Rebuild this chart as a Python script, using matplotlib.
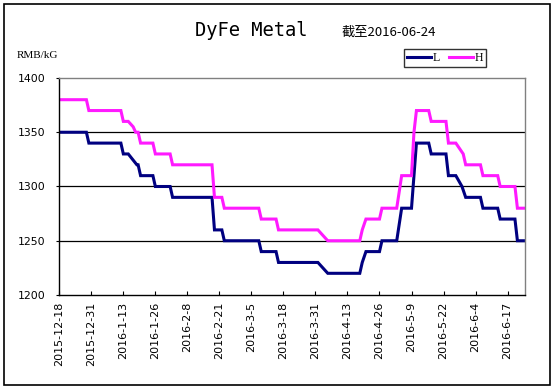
import matplotlib
matplotlib.use("Agg")
import matplotlib.pyplot as plt
import matplotlib.dates as mdates
import numpy as np
from matplotlib.patches import Rectangle

start = np.datetime64("2015-12-18")

# Change points: day offset from 2015-12-18 and price (RMB/kG)
h_days = [0, 11, 12, 25, 26, 28, 30, 31, 32, 33, 38, 39, 45, 46, 62, 63, 66, 67,
          81, 82, 88, 89, 105, 109, 122, 123, 124.5, 130, 131, 137, 139, 143, 144, 145,
          150, 151, 157, 158, 161, 164, 165, 171, 172, 178, 179, 185, 186, 189]
h_vals = [1380, 1380, 1370, 1370, 1360, 1360, 1355, 1350, 1350, 1340, 1340, 1330, 1330, 1320, 1320, 1290, 1290, 1280,
          1280, 1270, 1270, 1260, 1260, 1250, 1250, 1260, 1270, 1270, 1280, 1280, 1310, 1310, 1350, 1370,
          1370, 1360, 1360, 1340, 1340, 1330, 1320, 1320, 1310, 1310, 1300, 1300, 1280, 1280]

l_days = [0, 11, 12, 25, 26, 28, 31.5, 32, 33, 38, 39, 45, 46, 62, 63, 66, 67,
          81, 82, 88, 89, 105, 109, 122, 123, 124.5, 130, 131, 137, 139, 143, 145,
          150, 151, 157, 158, 161, 163.5, 165, 171, 172, 178, 179, 185, 186, 189]
l_vals = [1350, 1350, 1340, 1340, 1330, 1330, 1320, 1320, 1310, 1310, 1300, 1300, 1290, 1290, 1260, 1260, 1250,
          1250, 1240, 1240, 1230, 1230, 1220, 1220, 1230, 1240, 1240, 1250, 1250, 1280, 1280, 1340,
          1340, 1330, 1330, 1310, 1310, 1300, 1290, 1290, 1280, 1280, 1270, 1270, 1250, 1250]

tick_labels = ["2015-12-18", "2015-12-31", "2016-1-13", "2016-1-26", "2016-2-8", "2016-2-21",
               "2016-3-5", "2016-3-18", "2016-3-31", "2016-4-13", "2016-4-26", "2016-5-9",
               "2016-5-22", "2016-6-4", "2016-6-17"]
tick_dates = ["2015-12-18", "2015-12-31", "2016-01-13", "2016-01-26", "2016-02-08", "2016-02-21",
              "2016-03-05", "2016-03-18", "2016-03-31", "2016-04-13", "2016-04-26", "2016-05-09",
              "2016-05-22", "2016-06-04", "2016-06-17"]
y_ticks = [1200, 1250, 1300, 1350, 1400]


def to_num(days):
    base = mdates.date2num(start.astype("datetime64[D]").astype(object))
    return [base + d for d in days]


fig = plt.figure(figsize=(5.55, 3.89), dpi=100)
fig.patch.set_facecolor("white")
W, H = 555, 389
ax = fig.add_axes([59.3 / W, 1 - 295 / H, (524.8 - 59.3) / W, (295 - 78) / H])

ax.plot(to_num(l_days), l_vals, color="#000080", lw=2.2, label="L", solid_joinstyle="miter")
ax.plot(to_num(h_days), h_vals, color="#FF1AFF", lw=2.2, label="H", solid_joinstyle="miter")

x0 = to_num([0])[0]
ax.set_xlim(x0, x0 + 189)
ax.set_ylim(1200, 1400)
for v in [1250, 1300, 1350]:
    ax.axhline(v, color="black", lw=0.9, zorder=0)

ax.set_yticks(y_ticks)
ax.set_yticklabels([str(v) for v in y_ticks], fontsize=7.8, family="DejaVu Sans")
ax.set_xticks([mdates.date2num(np.datetime64(d).astype(object)) for d in tick_dates])
ax.set_xticklabels(tick_labels, rotation=90, fontsize=8, family="DejaVu Sans")
ax.tick_params(axis="x", direction="in", length=3, width=0.8, pad=5)
ax.tick_params(axis="y", direction="out", length=2, width=0.8, pad=8)

for s in ["top", "right"]:
    ax.spines[s].set_color("#808080")
for s in ["left", "bottom"]:
    ax.spines[s].set_color("black")
for s in ax.spines.values():
    s.set_linewidth(1.0)

leg = ax.legend(loc="upper left", bbox_to_anchor=((404 - 59.3) / (524.8 - 59.3), 1 + (78 - 49) / (295 - 78)),
                ncol=2, frameon=True, fancybox=False, prop={"family": "Liberation Serif", "size": 8.5},
                handlelength=2.0, handletextpad=0.15, columnspacing=0.8, borderpad=0.25, borderaxespad=0)
leg.get_frame().set_edgecolor("black")
leg.get_frame().set_linewidth(1.0)

fig.text(251 / W, 1 - 31 / H, "DyFe Metal", ha="center", va="center", fontsize=13.5,
         family="DejaVu Sans Mono")
fig.text(342 / W, 1 - 32 / H, "截至2016-06-24", ha="left", va="center", fontsize=9.5,
         family=["Noto Sans CJK SC", "DejaVu Sans"])
fig.text(17 / W, 1 - 56 / H, "RMB/kG", ha="left", va="center", fontsize=8,
         family="Liberation Serif")

fig.patches.append(Rectangle((3.5 / W, 1 - 384.5 / H), (550 - 3.5) / W, (384.5 - 3.5) / H,
                             transform=fig.transFigure, fill=False, edgecolor="black", lw=1.2))

fig.savefig("out.png", dpi=100, facecolor="white")
